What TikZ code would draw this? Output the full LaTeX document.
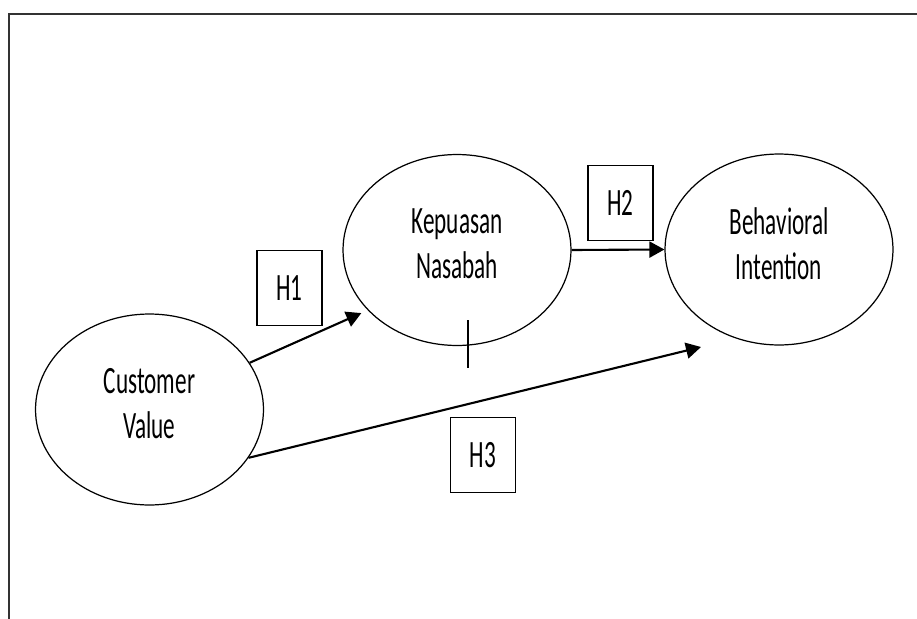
\documentclass[tikz,border=0pt]{standalone}
\usepackage{fontspec}
\setmainfont{Carlito}[FakeStretch=0.6]
\usetikzlibrary{arrows.meta, shapes.geometric}

\begin{document}
\begin{tikzpicture}[x=0.02cm, y=-0.02cm,
            var/.style={ellipse, draw, line width=0.7pt, minimum width=4.56cm, minimum height=3.82cm, inner sep=0pt, align=center, font=\fontsize{22}{25.6}\selectfont},
            hbox/.style={draw, line width=0.8pt, minimum width=1.3cm, minimum height=1.5cm, inner sep=0pt, font=\fontsize{22}{25.6}\selectfont},
            hyp/.style={line width=1.2pt, -{Triangle[length=0.3cm, width=0.32cm]}}]
            \useasboundingbox (0,0) rectangle (917,619);
            \draw[line width=1.5pt, black!80] (9,619) -- (9,14) -- (917,14);
            \node[var] (cv) at (149.5,409.5) {Customer\\Value\\[-0.66cm]};
            \node[var] (kn) at (457,250) {Kepuasan\\Nasabah\\[-0.66cm]};
            \node[var] (bi) at (779,249.5) {Behavioral\\Intention\\[-0.66cm]};
            \node[hbox] (h1) at (289.5,288) {H1};
            \node[hbox] (h2) at (620.5,203) {H2};
            \node[hbox] (h3) at (483,455) {H3};
            \coordinate (h3end) at (701,347);
            \draw[hyp, shorten >=0.14cm] (cv.25) -- (kn.214);
            \draw[hyp] (kn.east) -- (bi.west);
            \draw[hyp] (cv.-26) -- (h3end);
            \draw[line width=0.6pt] (468,320) -- (468,368);
        \end{tikzpicture}
\end{document}
